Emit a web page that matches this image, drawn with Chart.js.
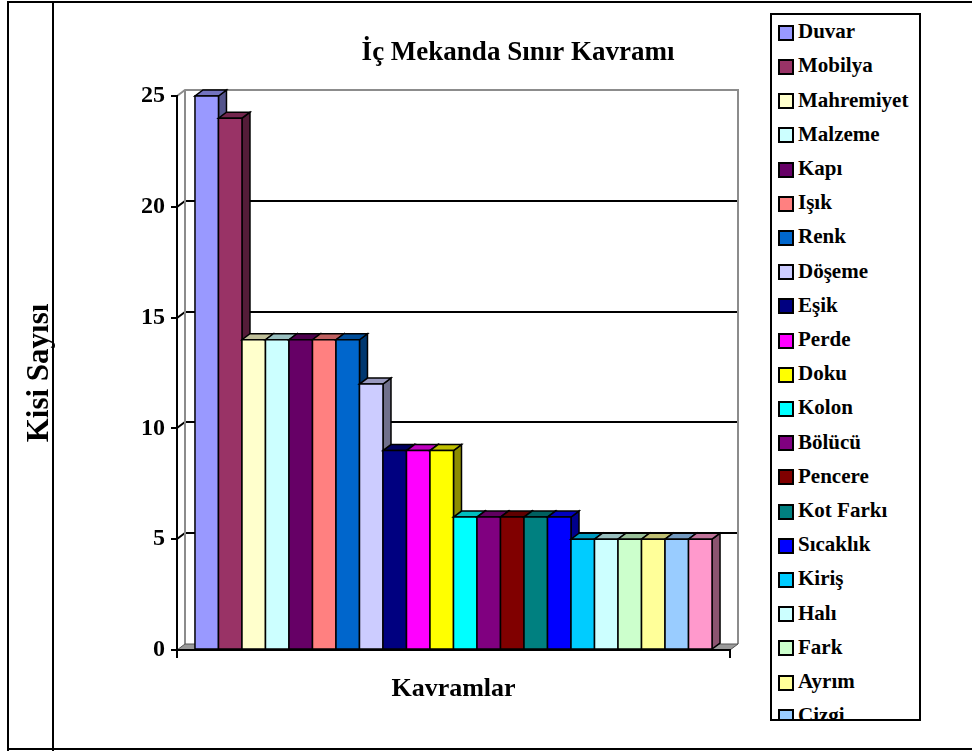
<!DOCTYPE html>
<html>
<head>
<meta charset="utf-8">
<script src="https://cdn.jsdelivr.net/npm/chart.js@4.4.1/dist/chart.umd.min.js"></script>
<style>
html, body { margin: 0; padding: 0; background: #fff; overflow: hidden; }
#wrap { position: relative; width: 972px; height: 751px; }
canvas { position: absolute; left: 0; top: 0; }
.line { position: absolute; background: #000; }
#legend {
    position: absolute; left: 770px; top: 13px; width: 147px; height: 704px;
    border: 2px solid #000; overflow: hidden; background: #fff;
    font: bold 21px "Liberation Serif", "Times New Roman", serif; color: #000;
}
.item { position: absolute; left: 6px; height: 24px; display: flex; align-items: center; white-space: nowrap; }
.sw { width: 12px; height: 12px; border: 2px solid #000; margin-right: 4px; margin-top: 2px; }
</style>
</head>
<body>
<div id="wrap">
    <canvas id="chart" width="972" height="751"></canvas>
    <div class="line" style="left:7px;top:1px;width:965px;height:2px"></div>
    <div class="line" style="left:7px;top:1px;width:2px;height:750px"></div>
    <div class="line" style="left:52px;top:1px;width:2px;height:750px"></div>
    <div class="line" style="left:7px;top:748px;width:965px;height:2px"></div>
    <div id="legend"></div>
</div>
<script>
// Data
const chartTitle = 'İç Mekanda Sınır Kavramı';
const kavramlar = ['Duvar', 'Mobilya', 'Mahremiyet', 'Malzeme', 'Kapı', 'Işık', 'Renk', 'Döşeme',
    'Eşik', 'Perde', 'Doku', 'Kolon', 'Bölücü', 'Pencere', 'Kot Farkı', 'Sıcaklık',
    'Kiriş', 'Halı', 'Fark', 'Ayrım', 'Çizgi', 'Diğer'];
const kisiSayisi = [25, 24, 14, 14, 14, 14, 14, 12, 9, 9, 9, 6, 6, 6, 6, 6, 5, 5, 5, 5, 5, 5];
const renkler = ['#9999FF', '#993366', '#FFFFCC', '#CCFFFF', '#660066', '#FF8080', '#0066CC', '#CCCCFF',
    '#000080', '#FF00FF', '#FFFF00', '#00FFFF', '#800080', '#800000', '#008080', '#0000FF',
    '#00CCFF', '#CCFFFF', '#CCFFCC', '#FFFF99', '#99CCFF', '#FF99CC'];
const yTicks = [0, 5, 10, 15, 20, 25];

const FONT = '"Liberation Serif", "Times New Roman", serif';
const DX = 8, DY = 6; // 3d depth

function shade(hex, f) {
    let n = parseInt(hex.slice(1), 16);
    let r = Math.round(((n >> 16) & 255) * f);
    let g = Math.round(((n >> 8) & 255) * f);
    let b = Math.round((n & 255) * f);
    return `rgb(${r},${g},${b})`;
}

function poly(ctx, pts, fill, stroke) {
    ctx.beginPath();
    ctx.moveTo(pts[0][0], pts[0][1]);
    for (let i = 1; i < pts.length; i++) ctx.lineTo(pts[i][0], pts[i][1]);
    ctx.closePath();
    if (fill) { ctx.fillStyle = fill; ctx.fill(); }
    if (stroke) { ctx.strokeStyle = stroke; ctx.stroke(); }
}

// walls, floor and gridlines behind the bars
const wallPlugin = {
    id: 'walls',
    beforeDraw(chart) {
        const ctx = chart.ctx;
        const a = chart.chartArea;
        const y = chart.scales.y;
        ctx.save();
        ctx.lineWidth = 2;
        // back wall
        poly(ctx, [[a.left + DX, a.top - DY], [a.right + DX, a.top - DY], [a.right + DX, a.bottom - DY], [a.left + DX, a.bottom - DY]], '#fff', null);
        // gridlines
        ctx.strokeStyle = '#000';
        yTicks.forEach(v => {
            if (v === yTicks[0] || v === yTicks[yTicks.length - 1]) return;
            let py = Math.round(y.getPixelForValue(v));
            ctx.beginPath();
            ctx.moveTo(a.left, py);
            ctx.lineTo(a.left + DX, py - DY);
            ctx.lineTo(a.right + DX, py - DY);
            ctx.stroke();
        });
        // wall border
        ctx.strokeStyle = '#8c8c8c';
        ctx.beginPath();
        ctx.moveTo(a.left, a.top);
        ctx.lineTo(a.left + DX, a.top - DY);
        ctx.lineTo(a.right + DX, a.top - DY);
        ctx.lineTo(a.right + DX, a.bottom - DY);
        ctx.moveTo(a.left + DX, a.top - DY);
        ctx.lineTo(a.left + DX, a.bottom - DY);
        ctx.stroke();
        // floor
        ctx.lineWidth = 1;
        poly(ctx, [[a.left, a.bottom], [a.right, a.bottom], [a.right + DX, a.bottom - DY], [a.left + DX, a.bottom - DY]], '#9a9a9a', '#555');
        ctx.restore();
    },
    afterDatasetsDraw(chart) {
        const ctx = chart.ctx;
        ctx.save();
        ctx.lineWidth = 1.5;
        ctx.lineJoin = 'miter';
        chart.data.datasets.forEach((ds, i) => {
            const bar = chart.getDatasetMeta(i).data[0];
            const c = ds.backgroundColor;
            const x0 = bar.x - bar.width / 2, x1 = bar.x + bar.width / 2;
            const yt = bar.y, yb = bar.base;
            poly(ctx, [[x1, yt], [x1 + DX, yt - DY], [x1 + DX, yb - DY], [x1, yb]], shade(c, 0.55), '#000');
            poly(ctx, [[x0, yt], [x1, yt], [x1 + DX, yt - DY], [x0 + DX, yt - DY]], shade(c, 0.75), '#000');
            poly(ctx, [[x0, yt], [x1, yt], [x1, yb], [x0, yb]], c, '#000');
        });
        ctx.restore();
    },
    afterDraw(chart) {
        const ctx = chart.ctx;
        ctx.save();
        ctx.fillStyle = '#000';
        ctx.font = 'bold 27px ' + FONT;
        ctx.textAlign = 'center';
        ctx.textBaseline = 'middle';
        ctx.fillText(chartTitle, 518, 53);
        ctx.restore();
    }
};

let datasets = kavramlar.map((name, i) => ({
    label: name,
    data: [kisiSayisi[i]],
    backgroundColor: renkler[i],
    borderColor: '#000',
    borderWidth: 0
}));

let ctx = document.getElementById('chart').getContext('2d');
let chart = new Chart(ctx, {
    type: 'bar',
    data: { labels: [''], datasets: datasets },
    plugins: [wallPlugin],
    options: {
        responsive: false,
        animation: false,
        layout: { padding: { left: 10, top: 96, right: 242, bottom: 46 } },
        datasets: { bar: { categoryPercentage: 0.935, barPercentage: 1 } },
        plugins: {
            legend: { display: false },
            tooltip: { enabled: false },
            title: { display: false }
        },
        scales: {
            x: {
                offset: true,
                grid: { display: true, drawOnChartArea: false, offset: true, tickLength: 8, color: '#000', lineWidth: 2 },
                border: { display: true, color: '#000', width: 2 },
                ticks: { display: false },
                title: {
                    display: true, text: 'Kavramlar', color: '#000',
                    font: { family: FONT, size: 26, weight: 'bold', lineHeight: 1.2 },
                    padding: { top: 0, bottom: 0 }
                },
                afterFit(scale) { scale.height = 55; }
            },
            y: {
                min: 0, max: 25,
                afterBuildTicks(scale) { scale.ticks = yTicks.map(v => ({ value: v })); },
                grid: { display: true, drawOnChartArea: false, tickLength: 6, color: '#000', lineWidth: 2 },
                border: { display: true, color: '#000', width: 2 },
                ticks: { color: '#000', padding: 6, font: { family: FONT, size: 24, weight: 'bold' } },
                title: {
                    display: true, text: 'Kisi Sayısı', color: '#000',
                    font: { family: FONT, size: 31, weight: 'bold', lineHeight: 1.2 },
                    padding: { top: 11, bottom: 0 }
                },
                afterFit(scale) { scale.width = 167; }
            }
        }
    }
});

// legend (box is clipped like the original)
let legend = document.getElementById('legend');
kavramlar.forEach((name, i) => {
    let item = document.createElement('div');
    item.className = 'item';
    item.style.top = (31.7 + 34.2 * i - 12 - 15) + 'px';
    item.innerHTML = `<span class="sw" style="background:${renkler[i]}"></span><span>${name}</span>`;
    legend.appendChild(item);
});
</script>
</body>
</html>
